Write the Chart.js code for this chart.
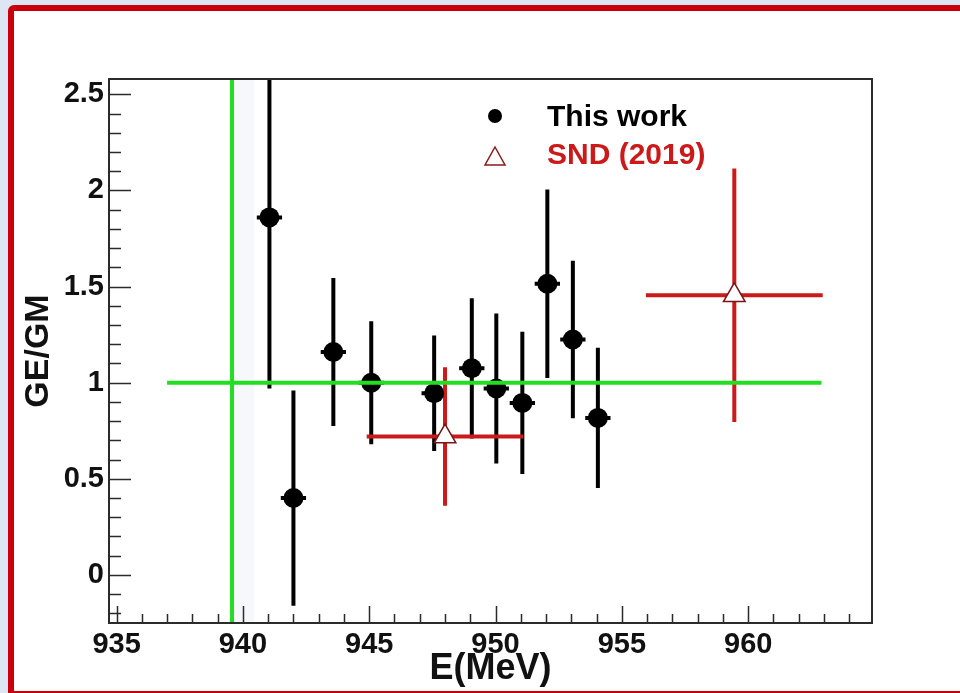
<!DOCTYPE html>
<html>
<head>
<meta charset="utf-8">
<title>GE/GM</title>
<script src="https://cdn.jsdelivr.net/npm/chart.js@4.4.1/dist/chart.umd.min.js"></script>
<style>
  html, body { margin:0; padding:0; background:#dce7f3; overflow:hidden; }
  #page { position:relative; width:960px; height:693px; overflow:hidden; }
  #cadre { position:absolute; left:8px; top:5px; width:1000px; height:692px; box-sizing:border-box;
           border:6px solid #c9000c; border-top-left-radius:6px; background:#fff; }
  #zone { position:absolute; left:0; top:0; width:960px; height:693px; }
</style>
</head>
<body>
<div id="page">
  <div id="cadre"></div>
  <div id="zone"><canvas id="chart"></canvas></div>
</div>
<script>
// Ce travail : énergie (MeV), GE/GM et erreurs
const energie = [941.05, 942.0, 943.58, 945.08, 947.57, 949.06, 950.03, 951.06, 952.05, 953.06, 954.05];
const rapport = [1.86, 0.40, 1.16, 1.00, 0.945, 1.075, 0.97, 0.895, 1.515, 1.225, 0.817];
const erreurY = [0.89, 0.56, 0.385, 0.32, 0.30, 0.365, 0.39, 0.37, 0.49, 0.41, 0.365];
const erreurX = [0.5, 0.5, 0.5, 0.5, 0.5, 0.5, 0.5, 0.5, 0.5, 0.5, 0.5];

// SND (2019)
const energieSND = [948.0, 959.45];
const rapportSND = [0.72, 1.455];
const erreurYSND = [0.36, 0.66];
const erreurXSND = [3.1, 3.5];

// lignes de référence : GE/GM = 1 et seuil de production
const ligneUn = [937.0, 962.9];
const seuil = 939.57;
const bandeSeuil = [939.57, 940.45];

// axes
const ticksX = [935, 940, 945, 950, 955, 960];
const ticksY = [0, 0.5, 1, 1.5, 2, 2.5];
const bornesX = [934.7, 964.9];
const bornesY = [-0.25, 2.58];

const police = '"Liberation Sans", Arial, Helvetica, sans-serif';
const rouge = '#cc1a1a';
const vert = '#22dd22';

function tracerBarres(ctx, x, y, ex, ey, errX, errY, couleur){
    ctx.strokeStyle = couleur;
    ctx.lineWidth = 4;
    for(var i=0; i<ex.length; i++){
        var px = x.getPixelForValue(ex[i]);
        var py = y.getPixelForValue(ey[i]);
        ctx.beginPath();
        ctx.moveTo(px, y.getPixelForValue(ey[i]+errY[i]));
        ctx.lineTo(px, y.getPixelForValue(ey[i]-errY[i]));
        ctx.moveTo(x.getPixelForValue(ex[i]-errX[i]), py);
        ctx.lineTo(x.getPixelForValue(ex[i]+errX[i]), py);
        ctx.stroke();
    }
}

function tracerGraduations(ctx, x, y, a){
    ctx.strokeStyle = '#2b2b2b';
    ctx.lineWidth = 1.5;
    ctx.beginPath();
    for(var v=Math.ceil(x.min); v<=x.max; v++){
        var px = Math.round(x.getPixelForValue(v))+0.5;
        var l = (v%5===0) ? 17 : 9;
        ctx.moveTo(px, a.bottom);
        ctx.lineTo(px, a.bottom-l);
    }
    for(var k=Math.ceil(y.min*10); k<=Math.floor(y.max*10); k++){
        var py = Math.round(y.getPixelForValue(k/10))+0.5;
        var l2 = (k%5===0) ? 22 : 12;
        ctx.moveTo(a.left, py);
        ctx.lineTo(a.left+l2, py);
    }
    ctx.stroke();
}

const decor = {
    id: 'decor',
    beforeDatasetsDraw(chart){
        const ctx = chart.ctx, a = chart.chartArea, x = chart.scales.x, y = chart.scales.y;
        ctx.save();
        ctx.beginPath();
        ctx.rect(a.left, a.top, a.right-a.left, a.bottom-a.top);
        ctx.clip();
        // bande pâle à droite du seuil
        ctx.fillStyle = '#f6f8fb';
        var b0 = x.getPixelForValue(bandeSeuil[0]), b1 = x.getPixelForValue(bandeSeuil[1]);
        ctx.fillRect(b0, a.top, b1-b0, a.bottom-a.top);
        tracerBarres(ctx, x, y, energie, rapport, erreurX, erreurY, '#000');
        tracerBarres(ctx, x, y, energieSND, rapportSND, erreurXSND, erreurYSND, rouge);
        ctx.restore();
    },
    afterDatasetsDraw(chart){
        const ctx = chart.ctx, a = chart.chartArea, x = chart.scales.x, y = chart.scales.y;
        ctx.save();
        ctx.beginPath();
        ctx.rect(a.left, a.top, a.right-a.left, a.bottom-a.top);
        ctx.clip();
        // lignes vertes
        ctx.strokeStyle = vert;
        ctx.lineWidth = 4;
        ctx.beginPath();
        ctx.moveTo(x.getPixelForValue(ligneUn[0]), y.getPixelForValue(1));
        ctx.lineTo(x.getPixelForValue(ligneUn[1]), y.getPixelForValue(1));
        ctx.moveTo(x.getPixelForValue(seuil), a.top);
        ctx.lineTo(x.getPixelForValue(seuil), a.bottom);
        ctx.stroke();
        ctx.restore();

        // cadre + graduations intérieures
        ctx.save();
        ctx.strokeStyle = '#2b2b2b';
        ctx.lineWidth = 2;
        ctx.strokeRect(a.left, a.top, a.right-a.left, a.bottom-a.top);
        tracerGraduations(ctx, x, y, a);

        // légende
        const ds = chart.data.datasets;
        ctx.font = 'bold 30px '+police;
        ctx.textAlign = 'left';
        ctx.textBaseline = 'alphabetic';
        ctx.fillStyle = '#000';
        ctx.beginPath();
        ctx.arc(495, 116, 7, 0, 2*Math.PI);
        ctx.fill();
        ctx.fillText(ds[0].label, 547, 126);
        ctx.beginPath();
        ctx.moveTo(495, 147);
        ctx.lineTo(505, 165);
        ctx.lineTo(485, 165);
        ctx.closePath();
        ctx.fillStyle = '#fff';
        ctx.fill();
        ctx.strokeStyle = '#8b1a1a';
        ctx.lineWidth = 1.5;
        ctx.stroke();
        ctx.fillStyle = rouge;
        ctx.fillText(ds[1].label, 547, 164);
        ctx.restore();
    }
};

function pts(xs, ys){
    return xs.map(function(v, i){ return {x: v, y: ys[i]}; });
}

var ctx = document.getElementById('chart').getContext('2d');
var graphe = new Chart(ctx, {
    type: 'scatter',
    data: {
        datasets: [{
            label: 'This work',
            data: pts(energie, rapport),
            pointStyle: 'circle',
            pointRadius: 10,
            pointBackgroundColor: '#000',
            pointBorderColor: '#000',
            pointBorderWidth: 0
        }, {
            label: 'SND (2019)',
            data: pts(energieSND, rapportSND),
            pointStyle: 'triangle',
            pointRadius: 12.5,
            pointBackgroundColor: '#fff',
            pointBorderColor: '#7a1515',
            pointBorderWidth: 1.5
        }]
    },
    options: {
        responsive: true,
        maintainAspectRatio: false,
        animation: false,
        events: [],
        layout: { padding: {left: 0, top: 79, right: 88, bottom: 0} },
        plugins: { legend: {display: false}, tooltip: {enabled: false} },
        scales: {
            x: {
                type: 'linear',
                min: bornesX[0], max: bornesX[1],
                afterBuildTicks: function(s){ s.ticks = ticksX.map(function(v){ return {value: v}; }); },
                afterFit: function(s){ s.height = 70; },
                grid: {display: false, drawTicks: false},
                border: {display: false},
                ticks: {
                    padding: 5, color: '#111', maxRotation: 0, autoSkip: false,
                    font: {family: police, size: 29, weight: 'bold'},
                    callback: function(v){ return String(v); }
                },
                title: {
                    display: true, text: 'E(MeV)', color: '#111',
                    font: {family: police, size: 36, weight: 'bold'},
                    padding: {top: 0, bottom: 2}
                }
            },
            y: {
                type: 'linear',
                min: bornesY[0], max: bornesY[1],
                afterBuildTicks: function(s){ s.ticks = ticksY.map(function(v){ return {value: v}; }); },
                afterFit: function(s){ s.width = 109; },
                grid: {display: false, drawTicks: false},
                border: {display: false},
                ticks: {
                    padding: 5, color: '#111', autoSkip: false,
                    font: {family: police, size: 29, weight: 'bold'},
                    callback: function(v){ return String(v); }
                },
                title: {
                    display: true, text: 'GE/GM', color: '#111',
                    font: {family: police, size: 34, weight: 'bold'},
                    padding: {top: 18, bottom: 0}
                }
            }
        }
    },
    plugins: [decor]
});
</script>
</body>
</html>
